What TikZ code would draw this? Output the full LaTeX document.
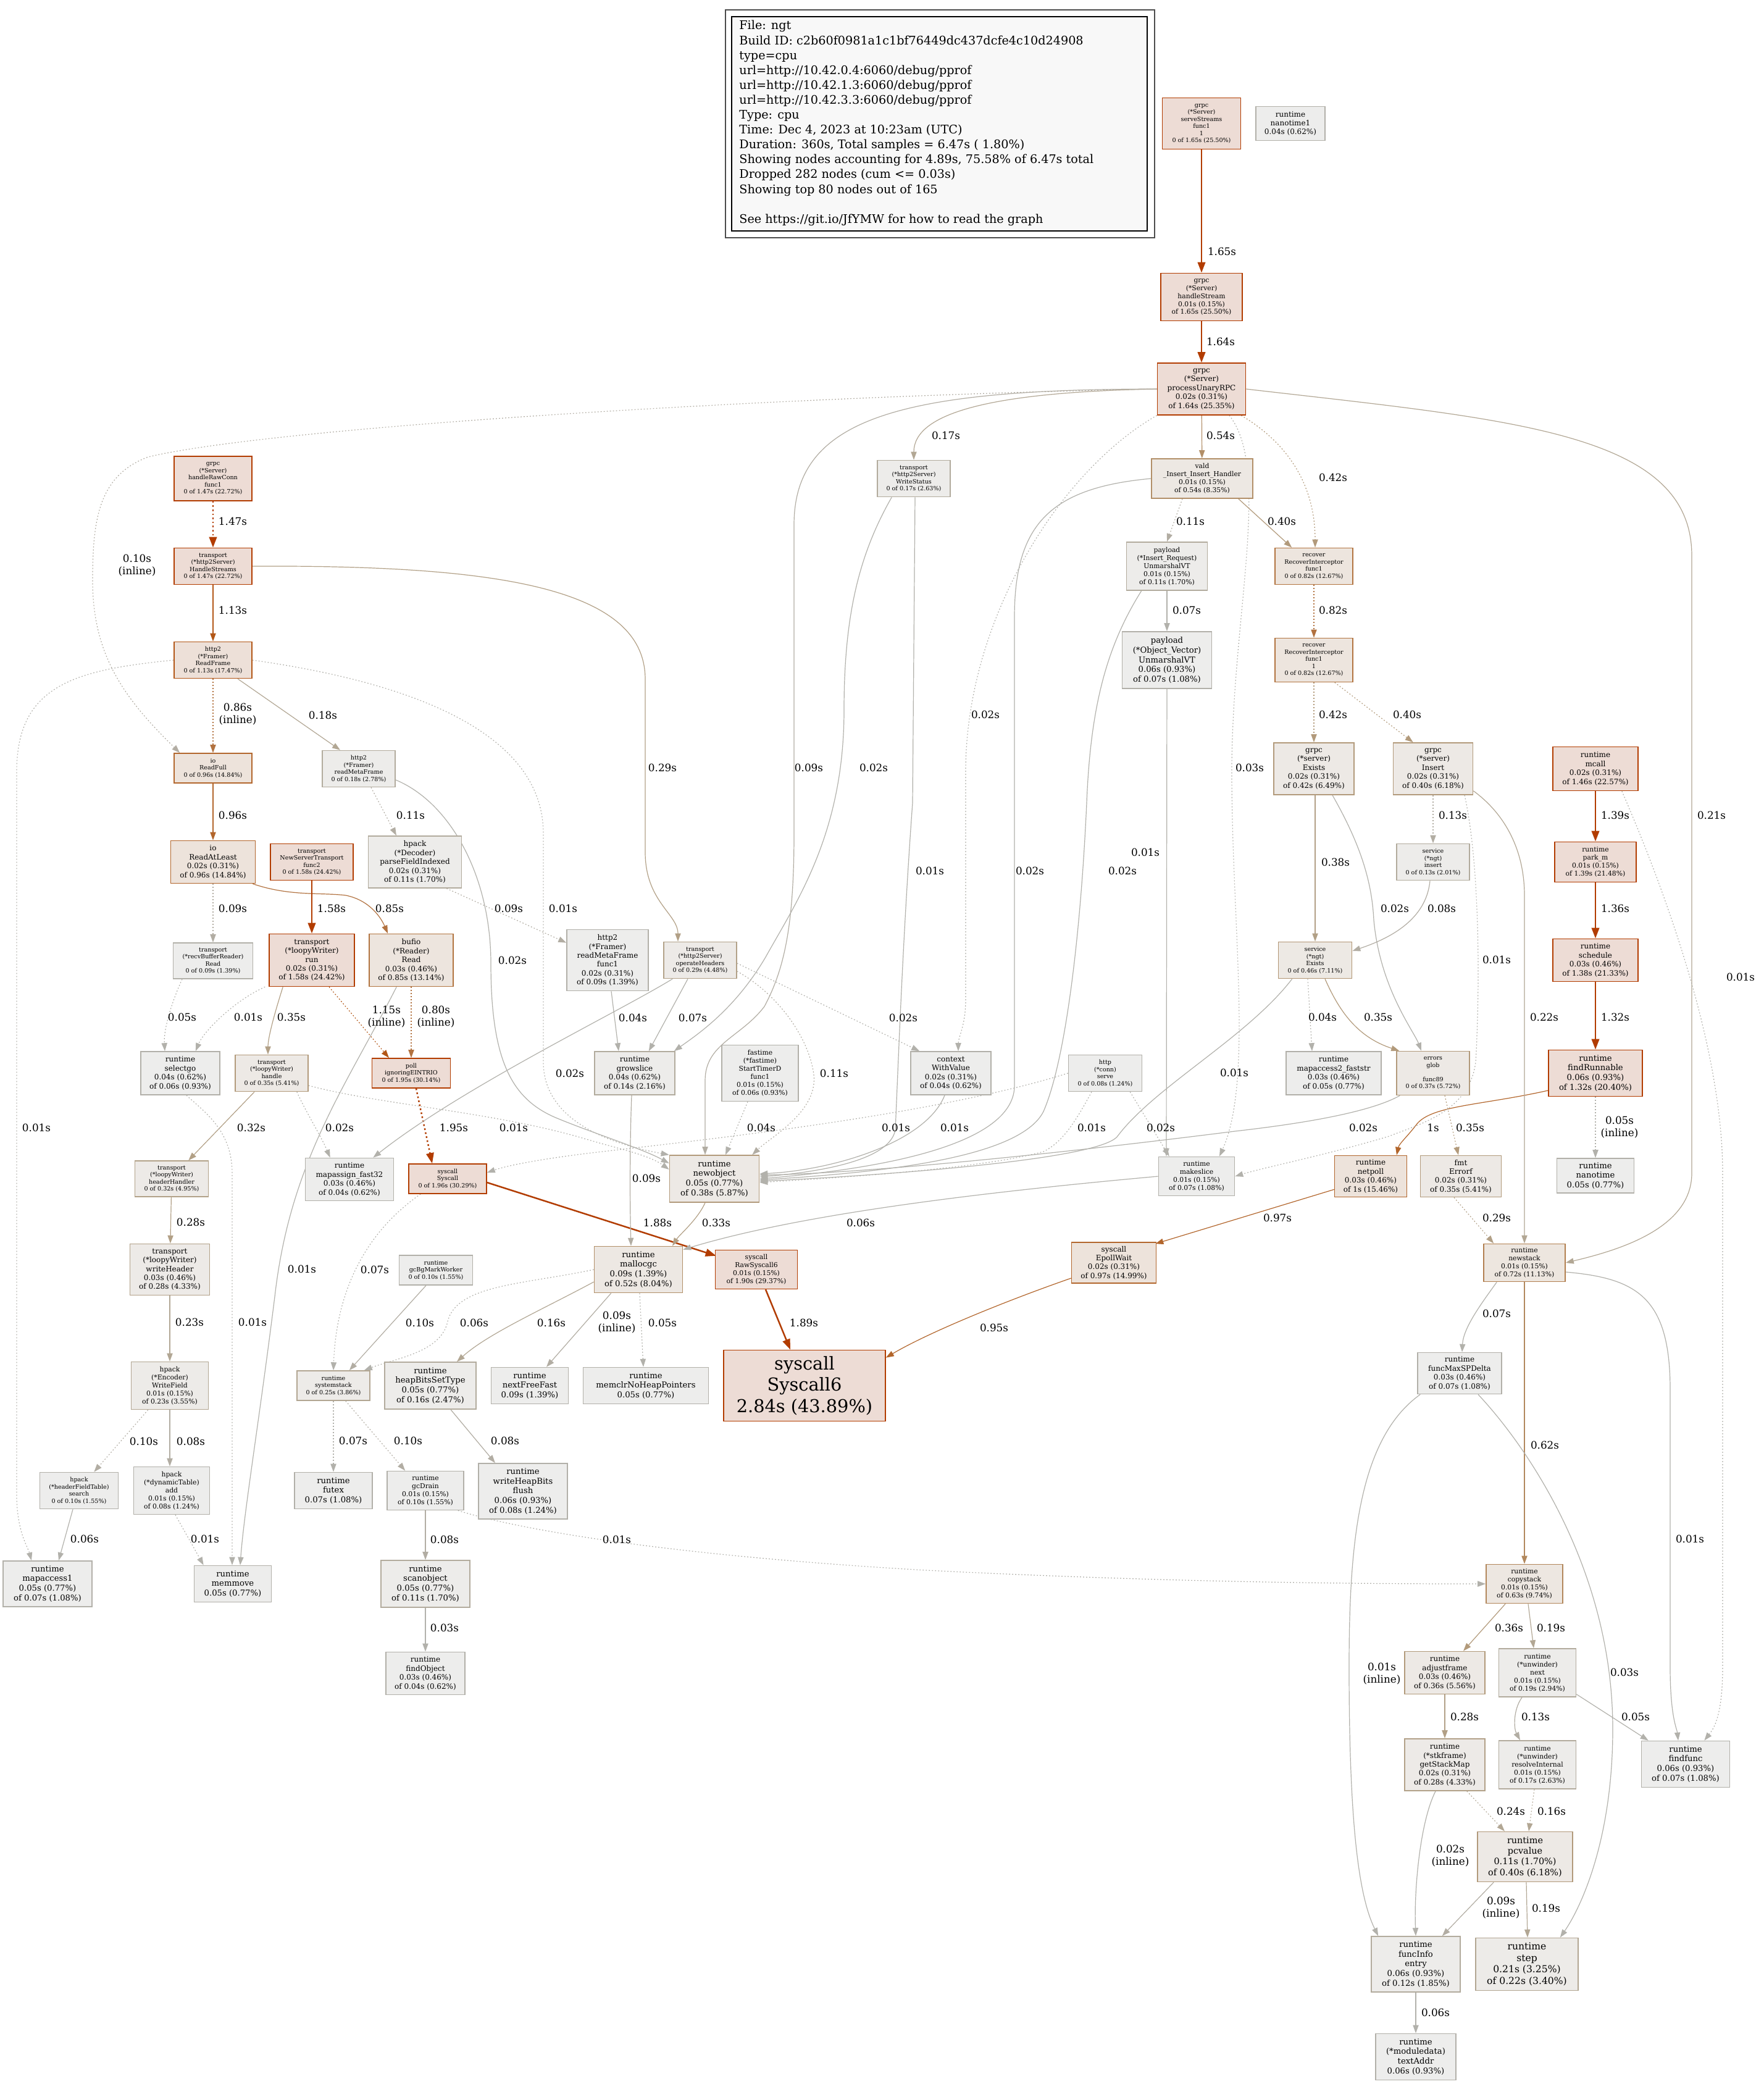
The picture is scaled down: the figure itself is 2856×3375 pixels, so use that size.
\documentclass[tikz,border=0pt]{standalone}
\usepackage{fontspec}
\setmainfont{DejaVu Serif}
\usetikzlibrary{arrows.meta,calc}
\pgfdeclarelayer{bg}
\pgfsetlayers{bg,main}
\definecolor{cAf}{HTML}{EDDCD5}\definecolor{cAd}{HTML}{B23C00}
\definecolor{cBf}{HTML}{EDE0D8}\definecolor{cBd}{HTML}{B25616}
\definecolor{cCf}{HTML}{EDE3DB}\definecolor{cCd}{HTML}{B2662C}
\definecolor{cDf}{HTML}{EDE5DE}\definecolor{cDd}{HTML}{B27440}
\definecolor{cEf}{HTML}{EDE6DF}\definecolor{cEd}{HTML}{B27F4F}
\definecolor{cFf}{HTML}{EDE7E1}\definecolor{cFd}{HTML}{B2875B}
\definecolor{cGf}{HTML}{EDE8E3}\definecolor{cGd}{HTML}{B28F68}
\definecolor{cHf}{HTML}{EDE9E4}\definecolor{cHd}{HTML}{B29573}
\definecolor{cIf}{HTML}{EDE9E5}\definecolor{cId}{HTML}{B29A7B}
\definecolor{cJf}{HTML}{EDEAE7}\definecolor{cJd}{HTML}{B2A188}
\definecolor{cKf}{HTML}{EDEBE8}\definecolor{cKd}{HTML}{B2A692}
\definecolor{cLf}{HTML}{EDECEA}\definecolor{cLd}{HTML}{B2AB9D}
\definecolor{cMf}{HTML}{EDEDEC}\definecolor{cMd}{HTML}{B2B0A9}
\definecolor{kA}{HTML}{B23C00}
\definecolor{kB}{HTML}{B25616}
\definecolor{kC}{HTML}{B2652B}
\definecolor{kD}{HTML}{B27240}
\definecolor{kE}{HTML}{B2885D}
\definecolor{kF}{HTML}{B28F68}
\definecolor{kG}{HTML}{B29A7B}
\definecolor{kH}{HTML}{B2A086}
\definecolor{kI}{HTML}{B2A794}
\definecolor{kJ}{HTML}{B2ADA3}
\definecolor{kK}{HTML}{B2B1AB}
\definecolor{legf}{HTML}{F8F8F8}
\tikzset{
 gbox/.style={rectangle, draw, inner sep=1pt, align=center, line width=0.8pt, text=black},
 f0/.style={font=\fontsize{4.8pt}{5.76pt}\selectfont},
 f1/.style={font=\fontsize{5.4pt}{6.48pt}\selectfont},
 f2/.style={font=\fontsize{6pt}{7.2pt}\selectfont},
 f3/.style={font=\fontsize{6.6pt}{7.92pt}\selectfont},
 f4/.style={font=\fontsize{7.2pt}{8.64pt}\selectfont},
 f5/.style={font=\fontsize{7.8pt}{9.36pt}\selectfont},
 fbig/.style={font=\fontsize{14.4pt}{17.28pt}\selectfont},
 cA/.style={fill=cAf,draw=cAd}, cB/.style={fill=cBf,draw=cBd},
 cC/.style={fill=cCf,draw=cCd}, cD/.style={fill=cDf,draw=cDd},
 cE/.style={fill=cEf,draw=cEd}, cF/.style={fill=cFf,draw=cFd},
 cG/.style={fill=cGf,draw=cGd}, cH/.style={fill=cHf,draw=cHd},
 cI/.style={fill=cIf,draw=cId}, cJ/.style={fill=cJf,draw=cJd},
 cK/.style={fill=cKf,draw=cKd}, cL/.style={fill=cLf,draw=cLd},
 cM/.style={fill=cMf,draw=cMd},
 e/.style={-{Triangle[length=6.5pt,width=4.6pt]}, line width=0.6pt},
 et/.style={-{Triangle[length=8.5pt,width=6.2pt]}, line width=1.25pt},
 dt/.style={dash pattern=on 0.9pt off 1.6pt},
 dtt/.style={dash pattern=on 1.3pt off 2pt},
 elab/.style={font=\fontsize{8.4pt}{10pt}\selectfont, inner sep=0pt, align=center, text=black},
}
\newcommand\gn[7]{\node[gbox,#6,minimum width=#4*0.5pt,minimum height=#5*0.5pt] (#1) at (#2,#3) {#7};}
\newcommand\el[4]{\node[elab] (#1) at (#2,#3) {#4};}
\begin{document}
\begin{tikzpicture}[x=0.5pt,y=-0.5pt]
\useasboundingbox (0,0) rectangle (2856,3375);
% legend
\draw[line width=1.3pt, draw=black!70] (1175,16) rectangle (1870,385);
\draw[line width=0.9pt, draw=black, fill=legf] (1185,27) rectangle (1858,374);
\node[anchor=north west, align=left, inner sep=0pt, font=\fontsize{9.6pt}{12.05pt}\selectfont] (legend) at (1197,33) {File: ngt\\Build ID: c2b60f0981a1c1bf76449dc437dcfe4c10d24908\\type=cpu\\url=http://10.42.0.4:6060/debug/pprof\\url=http://10.42.1.3:6060/debug/pprof\\url=http://10.42.3.3:6060/debug/pprof\\Type: cpu\\Time: Dec 4, 2023 at 10:23am (UTC)\\Duration: 360s, Total samples = 6.47s ( 1.80\%)\\Showing nodes accounting for 4.89s, 75.58\% of 6.47s total\\Dropped 282 nodes (cum <= 0.03s)\\Showing top 80 nodes out of 165\\\mbox{}\\See https://git.io/JfYMW for how to read the graph};
% nodes
\gn{sS}{1946}{200}{127}{83}{f0,cA}{grpc\\(*Server)\\serveStreams\\func1\\1\\0 of 1.65s (25.50\%)}
\gn{nt1}{2090}{200}{112}{55}{f2,cM}{runtime\\nanotime1\\0.04s (0.62\%)}
\gn{hS}{1946}{481}{132}{77}{f1,cA}{grpc\\(*Server)\\handleStream\\0.01s (0.15\%)\\of 1.65s (25.50\%)}
\gn{pU}{1946}{630}{143}{84}{f2,cA}{grpc\\(*Server)\\processUnaryRPC\\0.02s (0.31\%)\\of 1.64s (25.35\%)}
\gn{hRC}{345}{775}{126}{72}{f0,cA}{grpc\\(*Server)\\handleRawConn\\func1\\0 of 1.47s (22.72\%)}
\gn{HS}{345}{917}{126}{59}{f0,cA}{transport\\(*http2Server)\\HandleStreams\\0 of 1.47s (22.72\%)}
\gn{RF}{345}{1069}{126}{59}{f0,cB}{http2\\(*Framer)\\ReadFrame\\0 of 1.13s (17.47\%)}
\gn{RFu}{345}{1244}{126}{48}{f0,cC}{io\\ReadFull\\0 of 0.96s (14.84\%)}
\gn{rMF}{581}{1245}{118}{59}{f0,cL}{http2\\(*Framer)\\readMetaFrame\\0 of 0.18s (2.78\%)}
\gn{RAL}{345}{1396}{137}{69}{f2,cC}{io\\ReadAtLeast\\0.02s (0.31\%)\\of 0.96s (14.84\%)}
\gn{NST}{505}{1396}{134}{59}{f0,cA}{transport\\NewServerTransport\\func2\\0 of 1.58s (24.42\%)}
\gn{pFI}{672}{1396}{151}{84}{f2,cL}{hpack\\(*Decoder)\\parseFieldIndexed\\0.02s (0.31\%)\\of 0.11s (1.70\%)}
\gn{rBR}{345}{1556}{129}{58}{f0,cM}{transport\\(*recvBufferReader)\\Read\\0 of 0.09s (1.39\%)}
\gn{lWr}{505}{1555}{138}{85}{f2,cA}{transport\\(*loopyWriter)\\run\\0.02s (0.31\%)\\of 1.58s (24.42\%)}
\gn{bR}{666}{1555}{136}{85}{f2,cD}{bufio\\(*Reader)\\Read\\0.03s (0.46\%)\\of 0.85s (13.14\%)}
\gn{rMF1}{984}{1555}{132}{99}{f2,cM}{http2\\(*Framer)\\readMetaFrame\\func1\\0.02s (0.31\%)\\of 0.09s (1.39\%)}
\gn{oH}{1134}{1555}{118}{59}{f0,cJ}{transport\\(*http2Server)\\operateHeaders\\0 of 0.29s (4.48\%)}
\gn{sg}{292}{1738}{128}{70}{f2,cM}{runtime\\selectgo\\0.04s (0.62\%)\\of 0.06s (0.93\%)}
\gn{lWh}{440}{1738}{118}{59}{f0,cI}{transport\\(*loopyWriter)\\handle\\0 of 0.35s (5.41\%)}
\gn{poll}{666}{1738}{127}{48}{f0,cA}{poll\\ignoringEINTRIO\\0 of 1.95s (30.14\%)}
\gn{gs}{1028}{1738}{130}{70}{f2,cL}{runtime\\growslice\\0.04s (0.62\%)\\of 0.14s (2.16\%)}
\gn{ft}{1231}{1738}{124}{91}{f1,cM}{fastime\\(*fastime)\\StartTimerD\\func1\\0.01s (0.15\%)\\of 0.06s (0.93\%)}
\gn{cWV}{1540}{1738}{130}{70}{f2,cM}{context\\WithValue\\0.02s (0.31\%)\\of 0.04s (0.62\%)}
\gn{hcs}{1790}{1738}{119}{59}{f0,cM}{http\\(*conn)\\serve\\0 of 0.08s (1.24\%)}
\gn{ma2}{2160}{1738}{154}{70}{f2,cM}{runtime\\mapaccess2\_faststr\\0.03s (0.46\%)\\of 0.05s (0.77\%)}
\gn{eg}{2321}{1738}{118}{71}{f0,cI}{errors\\glob\\\mbox{}\\func89\\0 of 0.37s (5.72\%)}
\gn{fR}{2584}{1738}{152}{75}{f3,cA}{runtime\\findRunnable\\0.06s (0.93\%)\\of 1.32s (20.40\%)}
\gn{WS}{1480}{775}{118}{59}{f0,cL}{transport\\(*http2Server)\\WriteStatus\\0 of 0.17s (2.63\%)}
\gn{vH}{1947}{775}{164}{64}{f1,cG}{vald\\\_Insert\_Insert\_Handler\\0.01s (0.15\%)\\of 0.54s (8.35\%)}
\gn{IR}{1890}{917}{131}{78}{f1,cL}{payload\\(*Insert\_Request)\\UnmarshalVT\\0.01s (0.15\%)\\of 0.11s (1.70\%)}
\gn{rc1}{2128}{917}{126}{59}{f0,cD}{recover\\RecoverInterceptor\\func1\\0 of 0.82s (12.67\%)}
\gn{OV}{1890}{1069}{145}{92}{f3,cM}{payload\\(*Object\_Vector)\\UnmarshalVT\\0.06s (0.93\%)\\of 0.07s (1.08\%)}
\gn{rc2}{2128}{1069}{126}{71}{f0,cD}{recover\\RecoverInterceptor\\func1\\1\\0 of 0.82s (12.67\%)}
\gn{gE}{2128}{1245}{130}{84}{f2,cI}{grpc\\(*server)\\Exists\\0.02s (0.31\%)\\of 0.42s (6.49\%)}
\gn{gI}{2321}{1245}{129}{84}{f2,cI}{grpc\\(*server)\\Insert\\0.02s (0.31\%)\\of 0.40s (6.18\%)}
\gn{mcall}{2584}{1245}{138}{71}{f2,cA}{runtime\\mcall\\0.02s (0.31\%)\\of 1.46s (22.57\%)}
\gn{si}{2321}{1396}{118}{59}{f0,cL}{service\\(*ngt)\\insert\\0 of 0.13s (2.01\%)}
\gn{pm}{2584}{1396}{132}{65}{f1,cA}{runtime\\park\_m\\0.01s (0.15\%)\\of 1.39s (21.48\%)}
\gn{sE}{2130}{1555}{119}{59}{f0,cH}{service\\(*ngt)\\Exists\\0 of 0.46s (7.11\%)}
\gn{sch}{2584}{1555}{138}{69}{f2,cA}{runtime\\schedule\\0.03s (0.46\%)\\of 1.38s (21.33\%)}
\gn{no}{1157}{1909}{145}{76}{f3,cI}{runtime\\newobject\\0.05s (0.77\%)\\of 0.38s (5.87\%)}
\gn{ms}{1938}{1905}{123}{63}{f1,cM}{runtime\\makeslice\\0.01s (0.15\%)\\of 0.07s (1.08\%)}
\gn{np}{2220}{1905}{117}{67}{f2,cC}{runtime\\netpoll\\0.03s (0.46\%)\\of 1s (15.46\%)}
\gn{fE}{2366}{1905}{131}{67}{f2,cI}{fmt\\Errorf\\0.02s (0.31\%)\\of 0.35s (5.41\%)}
\gn{nt}{2584}{1904}{125}{56}{f3,cM}{runtime\\nanotime\\0.05s (0.77\%)}
\gn{maf}{566}{1910}{143}{69}{f2,cM}{runtime\\mapassign\_fast32\\0.03s (0.46\%)\\of 0.04s (0.62\%)}
\gn{sc}{725}{1909}{126}{48}{f0,cA}{syscall\\Syscall\\0 of 1.96s (30.29\%)}
\gn{hH}{278}{1909}{119}{58}{f0,cJ}{transport\\(*loopyWriter)\\headerHandler\\0 of 0.32s (4.95\%)}
\gn{EW}{1804}{2045}{137}{66}{f2,cC}{syscall\\EpollWait\\0.02s (0.31\%)\\of 0.97s (14.99\%)}
\gn{ns}{2469}{2045}{132}{61}{f1,cE}{runtime\\newstack\\0.01s (0.15\%)\\of 0.72s (11.13\%)}
\gn{wH}{275}{2056}{129}{83}{f2,cJ}{transport\\(*loopyWriter)\\writeHeader\\0.03s (0.46\%)\\of 0.28s (4.33\%)}
\gn{mg}{1034}{2056}{143}{75}{f3,cG}{runtime\\mallocgc\\0.09s (1.39\%)\\of 0.52s (8.04\%)}
\gn{rs6}{1225}{2056}{133}{63}{f1,cA}{syscall\\RawSyscall6\\0.01s (0.15\%)\\of 1.90s (29.37\%)}
\gn{gbm}{706}{2057}{119}{48}{f0,cM}{runtime\\gcBgMarkWorker\\0 of 0.10s (1.55\%)}
\gn{WF}{275}{2244}{125}{77}{f1,cK}{hpack\\(*Encoder)\\WriteField\\0.01s (0.15\%)\\of 0.23s (3.55\%)}
\gn{ss}{540}{2244}{118}{48}{f0,cK}{runtime\\systemstack\\0 of 0.25s (3.86\%)}
\gn{hBS}{697}{2244}{148}{76}{f3,cL}{runtime\\heapBitsSetType\\0.05s (0.77\%)\\of 0.16s (2.47\%)}
\gn{nFF}{858}{2244}{125}{59}{f3,cM}{runtime\\nextFreeFast\\0.09s (1.39\%)}
\gn{mcl}{1046}{2244}{203}{59}{f3,cM}{runtime\\memclrNoHeapPointers\\0.05s (0.77\%)}
\gn{s6}{1303}{2244}{262}{115}{fbig,cA}{syscall\\Syscall6\\2.84s (43.89\%)}
\gn{fMS}{2364}{2224}{136}{67}{f2,cM}{runtime\\funcMaxSPDelta\\0.03s (0.46\%)\\of 0.07s (1.08\%)}
\gn{hFT}{128}{2414}{127}{59}{f0,cM}{hpack\\(*headerFieldTable)\\search\\0 of 0.10s (1.55\%)}
\gn{dT}{278}{2414}{123}{77}{f1,cM}{hpack\\(*dynamicTable)\\add\\0.01s (0.15\%)\\of 0.08s (1.24\%)}
\gn{futex}{540}{2414}{126}{59}{f3,cM}{runtime\\futex\\0.07s (1.08\%)}
\gn{gD}{689}{2414}{124}{63}{f1,cM}{runtime\\gcDrain\\0.01s (0.15\%)\\of 0.10s (1.55\%)}
\gn{wHB}{847}{2415}{144}{90}{f3,cM}{runtime\\writeHeapBits\\flush\\0.06s (0.93\%)\\of 0.08s (1.24\%)}
\gn{ma1}{77}{2565}{144}{74}{f3,cM}{runtime\\mapaccess1\\0.05s (0.77\%)\\of 0.07s (1.08\%)}
\gn{mm}{377}{2565}{125}{59}{f3,cM}{runtime\\memmove\\0.05s (0.77\%)}
\gn{so}{689}{2565}{144}{76}{f3,cL}{runtime\\scanobject\\0.05s (0.77\%)\\of 0.11s (1.70\%)}
\gn{cs}{2469}{2565}{124}{63}{f1,cF}{runtime\\copystack\\0.01s (0.15\%)\\of 0.63s (9.74\%)}
\gn{fO}{689}{2710}{128}{69}{f2,cM}{runtime\\findObject\\0.03s (0.46\%)\\of 0.04s (0.62\%)}
\gn{af}{2340}{2709}{130}{69}{f2,cI}{runtime\\adjustframe\\0.03s (0.46\%)\\of 0.36s (5.56\%)}
\gn{un}{2490}{2709}{125}{78}{f1,cL}{runtime\\(*unwinder)\\next\\0.01s (0.15\%)\\of 0.19s (2.94\%)}
\gn{ff}{2730}{2857}{143}{75}{f3,cM}{runtime\\findfunc\\0.06s (0.93\%)\\of 0.07s (1.08\%)}
\gn{gSM}{2340}{2858}{130}{84}{f2,cJ}{runtime\\(*stkframe)\\getStackMap\\0.02s (0.31\%)\\of 0.28s (4.33\%)}
\gn{rI}{2490}{2858}{125}{78}{f1,cL}{runtime\\(*unwinder)\\resolveInternal\\0.01s (0.15\%)\\of 0.17s (2.63\%)}
\gn{pcv}{2470}{3007}{154}{81}{f4,cI}{runtime\\pcvalue\\0.11s (1.70\%)\\of 0.40s (6.18\%)}
\gn{fIe}{2293}{3181}{144}{90}{f3,cL}{runtime\\funcInfo\\entry\\0.06s (0.93\%)\\of 0.12s (1.85\%)}
\gn{st}{2473}{3181}{166}{85}{f5,cK}{runtime\\step\\0.21s (3.25\%)\\of 0.22s (3.40\%)}
\gn{tA}{2293}{3331}{130}{75}{f3,cM}{runtime\\(*moduledata)\\textAddr\\0.06s (0.93\%)}
% edge labels
\el{l1}{1979}{407}{1.65s}
\el{l2}{1977}{553}{1.64s}
\el{l3}{222}{916}{0.10s\\(inline)}
\el{l4}{1532}{705}{0.17s}
\el{l5}{1310}{1243}{0.09s}
\el{l6}{1596}{1157}{0.02s}
\el{l7}{1977}{705}{0.54s}
\el{l8}{2024}{1243}{0.03s}
\el{l9}{2159}{773}{0.42s}
\el{l10}{2772}{1320}{0.21s}
\el{l11}{377}{844}{1.47s}
\el{l12}{377}{988}{1.13s}
\el{l13}{1073}{1243}{0.29s}
\el{l14}{385}{1157}{0.86s\\(inline)}
\el{l15}{523}{1158}{0.18s}
\el{l16}{59}{1826}{0.01s}
\el{l17}{912}{1471}{0.01s}
\el{l18}{830}{1555}{0.02s}
\el{l19}{377}{1320}{0.96s}
\el{l20}{665}{1320}{0.11s}
\el{l21}{377}{1471}{0.09s}
\el{l22}{631}{1471}{0.85s}
\el{l23}{537}{1471}{1.58s}
\el{l24}{824}{1471}{0.09s}
\el{l25}{295}{1647}{0.05s}
\el{l26}{402}{1647}{0.01s}
\el{l27}{472}{1647}{0.35s}
\el{l28}{626}{1647}{1.15s\\(inline)}
\el{l29}{706}{1647}{0.80s\\(inline)}
\el{l30}{735}{1826}{1.95s}
\el{l31}{407}{1826}{0.32s}
\el{l32}{550}{1826}{0.02s}
\el{l33}{832}{1826}{0.01s}
\el{l34}{309}{1979}{0.28s}
\el{l35}{307}{2141}{0.23s}
\el{l36}{233}{2334}{0.10s}
\el{l37}{309}{2334}{0.08s}
\el{l38}{137}{2492}{0.06s}
\el{l39}{332}{2492}{0.01s}
\el{l40}{409}{2141}{0.01s}
\el{l41}{489}{2055}{0.01s}
\el{l42}{1065}{1980}{1.88s}
\el{l43}{607}{2056}{0.07s}
\el{l44}{680}{2142}{0.10s}
\el{l45}{768}{2142}{0.06s}
\el{l46}{893}{2142}{0.16s}
\el{l47}{999}{2142}{0.09s\\(inline)}
\el{l48}{1073}{2142}{0.05s}
\el{l49}{1302}{2142}{1.89s}
\el{l50}{1610}{2150}{0.95s}
\el{l51}{2069}{1972}{0.97s}
\el{l52}{2321}{1826}{1s}
\el{l53}{2623}{1826}{0.05s\\(inline)}
\el{l54}{2381}{1826}{0.35s}
\el{l55}{2424}{1972}{0.29s}
\el{l56}{2501}{1647}{0.22s}
\el{l57}{2424}{2127}{0.07s}
\el{l58}{2502}{2340}{0.62s}
\el{l59}{2737}{2492}{0.01s}
\el{l60}{2819}{1582}{0.01s}
\el{l61}{2238}{2711}{0.01s\\(inline)}
\el{l62}{2631}{2708}{0.03s}
\el{l63}{2444}{2636}{0.36s}
\el{l64}{2512}{2636}{0.19s}
\el{l65}{2372}{2780}{0.28s}
\el{l66}{2487}{2780}{0.13s}
\el{l67}{2649}{2780}{0.05s}
\el{l68}{2447}{2933}{0.24s}
\el{l69}{2513}{2933}{0.16s}
\el{l70}{2349}{3006}{0.02s\\(inline)}
\el{l71}{2431}{3090}{0.09s\\(inline)}
\el{l72}{2504}{3090}{0.19s}
\el{l73}{2325}{3259}{0.06s}
\el{l74}{999}{2493}{0.01s}
\el{l75}{818}{2333}{0.08s}
\el{l76}{572}{2333}{0.07s}
\el{l77}{661}{2333}{0.10s}
\el{l78}{720}{2493}{0.08s}
\el{l79}{720}{2636}{0.03s}
\el{l80}{1160}{1980}{0.33s}
\el{l81}{1047}{1908}{0.09s}
\el{l82}{1394}{1980}{0.06s}
\el{l83}{1025}{1648}{0.04s}
\el{l84}{1122}{1648}{0.07s}
\el{l85}{1415}{1243}{0.02s}
\el{l86}{1506}{1410}{0.01s}
\el{l87}{1668}{1410}{0.02s}
\el{l88}{1818}{1410}{0.02s}
\el{l89}{1922}{988}{0.07s}
\el{l90}{1855}{1380}{0.01s}
\el{l91}{1928}{844}{0.11s}
\el{l92}{2076}{844}{0.40s}
\el{l93}{2159}{988}{0.82s}
\el{l94}{2159}{1157}{0.42s}
\el{l95}{2279}{1157}{0.40s}
\el{l96}{2163}{1396}{0.38s}
\el{l97}{2259}{1471}{0.02s}
\el{l98}{2353}{1320}{0.13s}
\el{l99}{2335}{1471}{0.08s}
\el{l100}{2142}{1647}{0.04s}
\el{l101}{2232}{1647}{0.35s}
\el{l102}{1999}{1737}{0.01s}
\el{l103}{2208}{1826}{0.02s}
\el{l104}{2424}{1554}{0.01s}
\el{l105}{1451}{1826}{0.01s}
\el{l106}{1768}{1826}{0.01s}
\el{l107}{1880}{1826}{0.02s}
\el{l108}{1351}{1738}{0.11s}
\el{l109}{1463}{1648}{0.02s}
\el{l110}{1233}{1826}{0.04s}
\el{l111}{1546}{1826}{0.01s}
\el{l112}{2616}{1320}{1.39s}
\el{l113}{2616}{1471}{1.36s}
\el{l114}{2616}{1647}{1.32s}
\el{l115}{923}{1738}{0.02s}
\begin{pgfonlayer}{bg}
\fill[white] (0,0) rectangle (2856,3375);
% edges
\draw[et,kA] (sS) -- (hS);
\draw[et,kA] (hS) -- (pU);
\draw[e,kJ,dt] (pU.west) .. controls (1300,640) and (450,690) .. (240,740) .. controls (160,770) and (150,840) .. (150,940) .. controls (150,1060) and (200,1130) .. ($(RFu.north west)+(10,0)$);
\draw[e,kI] (pU.west) .. controls (1600,635) and (1480,670) .. (WS.north);
\draw[e,kJ] (pU.west) .. controls (1450,630) and (1286,680) .. (1286,850) -- (1286,1350) .. controls (1286,1500) and (1270,1570) .. (1238,1630) .. controls (1200,1680) and (1142,1690) .. (1142,1750) -- ($(no.north)+(-15,0)$);
\draw[e,kK,dt] (pU.south west) .. controls (1720,760) and (1564,1000) .. (1564,1250) -- (1564,1620) .. controls (1564,1660) and (1552,1680) .. ($(cWV.north)+(12,0)$);
\draw[e,kF] (pU) -- (vH);
\draw[e,kK,dt] ($(pU.south)+(45,0)$) .. controls (2060,760) and (1995,1000) .. (1995,1250) .. controls (1995,1500) and (2030,1750) .. ($(ms.north)+(37,0)$);
\draw[e,kG,dt] ($(pU.south east)+(-8,0)$) .. controls (2090,720) and (2130,790) .. ($(rc1.north)+(2,0)$);
\draw[e,kI] (pU.east) .. controls (2450,680) and (2740,700) .. (2740,900) -- (2740,1900) .. controls (2740,1990) and (2620,2025) .. (ns.east);
\draw[et,kA,dtt] (hRC) -- (HS);
\draw[e,kB] (HS) -- (RF);
\draw[e,kH] (HS.east) .. controls (800,915) and (1045,950) .. (1045,1100) -- (1045,1380) .. controls (1045,1460) and (1098,1480) .. ($(oH.north)+(-36,0)$);
\draw[e,kD,dt] (RF) -- (RFu);
\draw[e,kI] ($(RF.south)+(40,0)$) -- ($(rMF.north)+(-30,0)$);
\draw[e,kK,dt] (RF.west) .. controls (120,1085) and (27,1110) .. (27,1250) -- (27,2420) .. controls (27,2480) and (45,2505) .. ($(ma1.north)+(-26,0)$);
\draw[e,kK,dt] (RF.east) .. controls (700,1110) and (880,1200) .. (880,1350) -- (880,1720) .. controls (880,1820) and (1000,1855) .. (no.north west);
\draw[e,kK] ($(rMF.east)+(0,18)$) .. controls (730,1300) and (795,1420) .. (795,1560) .. controls (795,1720) and (830,1780) .. (900,1810) .. controls (960,1835) and (1040,1860) .. ($(no.west)+(0,-25)$);
\draw[e,kC] (RFu) -- (RAL);
\draw[e,kJ,dt] ($(rMF.south)+(20,0)$) -- ($(pFI.north)+(-30,0)$);
\draw[e,kJ,dt] (RAL) -- (rBR);
\draw[e,kD] ($(RAL.south east)+(-5,0)$) .. controls (470,1452) and (520,1445) .. (560,1450) .. controls (600,1458) and (618,1488) .. ($(bR.north)+(-38,0)$);
\draw[et,kA] (NST) -- (lWr);
\draw[e,kJ,dt] ($(pFI.south east)+(-25,0)$) -- ($(rMF1.north west)+(0,22)$);
\draw[e,kK,dt] ($(rBR.south)+(-50,0)$) .. controls (275,1630) and (265,1670) .. ($(sg.north)+(-25,0)$);
\draw[e,kK,dt] ($(lWr.south west)+(-6,0)$) .. controls (380,1620) and (330,1670) .. ($(sg.north east)+(-40,0)$);
\draw[e,kH] ($(lWr.south west)+(23,0)$) .. controls (445,1640) and (434,1680) .. ($(lWh.north)+(-6,0)$);
\draw[e,kB,dt] ($(lWr.south)+(28,0)$) -- ($(poll.north)+(-36,0)$);
\draw[e,kD,dt] (bR) -- (poll);
\draw[et,kA,dtt] ($(poll.south)+(8,0)$) -- ($(sc.north)+(-25,0)$);
\draw[e,kH] ($(lWh.south)+(-28,0)$) -- ($(hH.north east)+(-33,0)$);
\draw[e,kK,dt] ($(lWh.south east)+(-19,0)$) .. controls (495,1800) and (520,1840) .. ($(maf.north west)+(41,0)$);
\draw[e,kK,dt] ($(lWh.east)+(0,20)$) .. controls (620,1790) and (800,1800) .. (950,1845) .. controls (1000,1860) and (1050,1870) .. ($(no.west)+(0,-15)$);
\draw[e,kH] (hH) -- (wH);
\draw[e,kI] (wH) -- (WF);
\draw[e,kJ,dt] ($(WF.south west)+(28,0)$) -- ($(hFT.north east)+(-40,0)$);
\draw[e,kJ] (WF.south) -- ($(dT.north)+(-3,0)$);
\draw[e,kK] ($(hFT.south)+(-10,0)$) -- ($(ma1.north)+(18,0)$);
\draw[e,kK,dt] ($(dT.south)+(6,0)$) -- ($(mm.north west)+(16,0)$);
\draw[e,kK,dt] ($(sg.south)+(10,0)$) .. controls (330,1800) and (376,1830) .. (376,1900) -- ($(mm.north)+(-1,0)$);
\draw[e,kK] ($(bR.south west)+(45,0)$) .. controls (560,1760) and (470,1880) .. (445,2100) .. controls (420,2300) and (395,2450) .. ($(mm.north)+(12,0)$);
\draw[et,kA] ($(sc.east)+(0,6)$) -- ($(rs6.north west)+(2,10)$);
\draw[e,kK,dt] ($(sc.south west)+(20,0)$) .. controls (600,1990) and (545,2080) .. (ss.north);
\draw[e,kJ] ($(gbm.south)+(-16,0)$) -- ($(ss.north east)+(-34,0)$);
\draw[e,kK,dt] (mg.west) .. controls (850,2080) and (740,2080) .. (725,2140) .. controls (715,2190) and (640,2200) .. ($(ss.north east)+(-10,0)$);
\draw[e,kI] ($(mg.west)+(0,20)$) .. controls (880,2120) and (790,2160) .. ($(hBS.north)+(43,0)$);
\draw[e,kJ] ($(mg.south west)+(28,0)$) -- ($(nFF.north)+(27,0)$);
\draw[e,kK,dt] ($(mg.south)+(2,0)$) -- ($(mcl.north)+(-4,0)$);
\draw[et,kA] ($(rs6.south)+(15,0)$) -- ($(s6.north)+(-23,0)$);
\draw[e,kC] ($(EW.west)+(0,25)$) .. controls (1620,2110) and (1500,2160) .. ($(s6.north east)+(0,13)$);
\draw[e,kC] ($(np.south west)+(0,-13)$) -- ($(EW.north east)+(-2,3)$);
\draw[e,kC] ($(fR.west)+(0,28)$) .. controls (2400,1790) and (2320,1790) .. (2295,1820) .. controls (2280,1840) and (2266,1852) .. ($(np.north)+(42,0)$);
\draw[e,kK,dt] (fR) -- (nt);
\draw[e,kG,dt] ($(eg.south)+(19,0)$) -- ($(fE.north)+(-4,0)$);
\draw[e,kH,dt] ($(fE.south)+(-11,0)$) -- ($(ns.north west)+(17,0)$);
\draw[e,kI] ($(gI.south east)+(0,-7)$) .. controls (2440,1320) and (2469,1380) .. (2469,1450) -- (ns.north);
\draw[e,kK] ($(ns.south west)+(22,0)$) .. controls (2400,2110) and (2370,2150) .. ($(fMS.north)+(4,0)$);
\draw[e,kE] (ns) -- (cs);
\draw[e,kK] ($(ns.east)+(0,15)$) .. controls (2650,2070) and (2705,2100) .. (2705,2250) -- (2705,2700) .. controls (2705,2780) and (2716,2800) .. ($(ff.north)+(-12,0)$);
\draw[e,kK,dt] ($(mcall.south east)+(-27,0)$) .. controls (2700,1450) and (2790,1700) .. (2790,1900) -- (2790,2700) .. controls (2790,2780) and (2775,2800) .. ($(ff.north east)+(-42,0)$);
\draw[e,kK] ($(fMS.south west)+(5,0)$) .. controls (2200,2330) and (2185,2500) .. (2185,2700) .. controls (2185,2950) and (2200,3070) .. ($(fIe.north west)+(12,0)$);
\draw[e,kK] ($(fMS.south)+(30,0)$) .. controls (2480,2350) and (2612,2550) .. (2612,2800) .. controls (2612,2980) and (2560,3090) .. ($(st.north east)+(-30,0)$);
\draw[e,kG] ($(cs.south west)+(32,0)$) -- ($(af.north)+(30,0)$);
\draw[e,kI] ($(cs.south)+(6,0)$) -- ($(un.north)+(-6,0)$);
\draw[e,kH] (af) -- (gSM);
\draw[e,kJ] ($(un.south)+(-25,0)$) .. controls (2450,2770) and (2452,2800) .. ($(rI.north)+(-28,0)$);
\draw[e,kK] ($(un.south east)+(0,-5)$) -- ($(ff.north west)+(12,0)$);
\draw[e,kI,dt] ($(gSM.south east)+(-30,0)$) -- ($(pcv.north)+(-33,0)$);
\draw[e,kI,dt] ($(rI.south)+(-5,0)$) -- ($(pcv.north)+(6,0)$);
\draw[e,kK] ($(gSM.south)+(-15,0)$) .. controls (2300,2950) and (2290,3060) .. (fIe.north);
\draw[e,kJ] ($(pcv.south west)+(27,0)$) -- ($(fIe.north east)+(-30,0)$);
\draw[e,kI] ($(pcv.south)+(2,0)$) -- ($(st.north)+(1,0)$);
\draw[e,kK] (fIe) -- (tA);
\draw[e,kK,dt] ($(gD.south east)+(-10,0)$) .. controls (850,2480) and (1100,2520) .. (1500,2543) .. controls (1900,2563) and (2200,2565) .. (cs.west);
\draw[e,kJ] ($(hBS.south)+(33,0)$) -- ($(wHB.north)+(-45,0)$);
\draw[e,kK,dt] (ss) -- (futex);
\draw[e,kJ,dt] ($(ss.south east)+(-40,0)$) -- ($(gD.north west)+(30,0)$);
\draw[e,kJ] (gD) -- (so);
\draw[e,kK] (so) -- (fO);
\draw[e,kH] ($(no.south)+(-15,0)$) .. controls (1130,1975) and (1100,2000) .. ($(mg.north)+(55,0)$);
\draw[e,kJ] ($(gs.south)+(-5,0)$) .. controls (1020,1850) and (1020,1950) .. ($(mg.north)+(-12,0)$);
\draw[e,kK] (ms.west) .. controls (1600,1930) and (1300,1965) .. ($(mg.north east)+(0,6)$);
\draw[e,kK] ($(rMF1.south)+(6,0)$) -- ($(gs.north)+(-26,0)$);
\draw[e,kK] ($(oH.south)+(-20,0)$) -- ($(gs.north east)+(-43,0)$);
\draw[e,kK] ($(oH.south west)+(15,0)$) .. controls (1000,1640) and (750,1760) .. ($(maf.north east)+(-34,0)$);
\draw[e,kK] ($(WS.south west)+(24,0)$) .. controls (1390,900) and (1367,1000) .. (1367,1150) .. controls (1367,1350) and (1290,1460) .. (1240,1550) .. controls (1190,1635) and (1130,1675) .. ($(gs.north east)+(-2,0)$);
\draw[e,kK] ($(WS.south)+(2,0)$) -- (1478,1300) .. controls (1462,1520) and (1455,1720) .. (1450,1830) .. controls (1440,1885) and (1300,1900) .. ($(no.east)+(0,-3)$);
\draw[e,kK] (vH.west) .. controls (1700,790) and (1643,850) .. (1643,1000) -- (1643,1760) .. controls (1640,1860) and (1400,1895) .. (no.east);
\draw[e,kK] ($(IR.south west)+(25,0)$) .. controls (1790,1050) and (1766,1150) .. (1760,1300) .. controls (1750,1520) and (1725,1720) .. (1690,1800) .. controls (1650,1880) and (1400,1900) .. ($(no.east)+(0,2)$);
\draw[e,kK] (IR) -- (OV);
\draw[e,kK] (OV) -- ($(ms.north)+(-49,0)$);
\draw[e,kJ,dt] ($(vH.south)+(-32,0)$) -- (IR.north);
\draw[e,kG] ($(vH.south east)+(-24,0)$) -- ($(rc1.north west)+(28,0)$);
\draw[e,kD,dt] (rc1) -- (rc2);
\draw[e,kG,dt] (rc2) -- (gE);
\draw[e,kG,dt] ($(rc2.south east)+(-30,0)$) -- ($(gI.north west)+(33,0)$);
\draw[e,kH] ($(gE.south)+(2,0)$) -- (sE.north);
\draw[e,kK] ($(gE.south)+(30,0)$) .. controls (2205,1370) and (2222,1430) .. (2225,1490) .. controls (2235,1600) and (2290,1670) .. ($(eg.north)+(-19,0)$);
\draw[e,kJ,dt] (gI) -- (si);
\draw[e,kJ] ($(si.south)+(-5,0)$) .. controls (2310,1490) and (2250,1520) .. ($(sE.east)+(0,-15)$);
\draw[e,kK,dt] ($(sE.south)+(-12,0)$) -- ($(ma2.north)+(-35,0)$);
\draw[e,kG] ($(sE.south)+(16,0)$) .. controls (2170,1640) and (2200,1680) .. ($(eg.north west)+(5,0)$);
\draw[e,kK] ($(sE.south west)+(23,0)$) .. controls (2020,1680) and (1870,1760) .. (1810,1840) .. controls (1780,1880) and (1400,1905) .. ($(no.east)+(0,4)$);
\draw[e,kK] ($(eg.south west)+(6,0)$) .. controls (2230,1795) and (2150,1815) .. (2000,1832) .. controls (1700,1870) and (1400,1900) .. ($(no.east)+(0,-6)$);
\draw[e,kK,dt] ($(gI.south)+(51,0)$) .. controls (2397,1400) and (2397,1600) .. (2390,1720) .. controls (2380,1800) and (2300,1820) .. (2250,1840) .. controls (2150,1870) and (2050,1890) .. (ms.east);
\draw[e,kK,dt] (hcs.west) .. controls (1500,1810) and (1100,1850) .. (950,1868) .. controls (870,1878) and (820,1888) .. ($(sc.east)+(0,-10)$);
\draw[e,kK,dt] ($(hcs.south)+(-22,0)$) .. controls (1740,1820) and (1720,1850) .. (1690,1865) .. controls (1600,1890) and (1400,1905) .. ($(no.east)+(0,6)$);
\draw[e,kK,dt] ($(hcs.south east)+(-20,0)$) -- ($(ms.north west)+(18,0)$);
\draw[e,kJ,dt] ($(oH.east)+(0,18)$) .. controls (1260,1610) and (1310,1680) .. (1318,1740) .. controls (1325,1800) and (1250,1840) .. ($(no.north east)+(-12,0)$);
\draw[e,kK,dt] ($(oH.east)+(0,5)$) -- ($(cWV.north west)+(15,0)$);
\draw[e,kK,dt] ($(ft.south)+(-20,0)$) -- ($(no.north)+(18,0)$);
\draw[e,kK] ($(cWV.south)+(-10,0)$) .. controls (1500,1850) and (1350,1895) .. ($(no.east)+(0,-8)$);
\draw[et,kA] (mcall) -- (pm);
\draw[et,kA] (pm) -- (sch);
\draw[et,kA] (sch) -- (fR);
\end{pgfonlayer}
\end{tikzpicture}
\end{document}
